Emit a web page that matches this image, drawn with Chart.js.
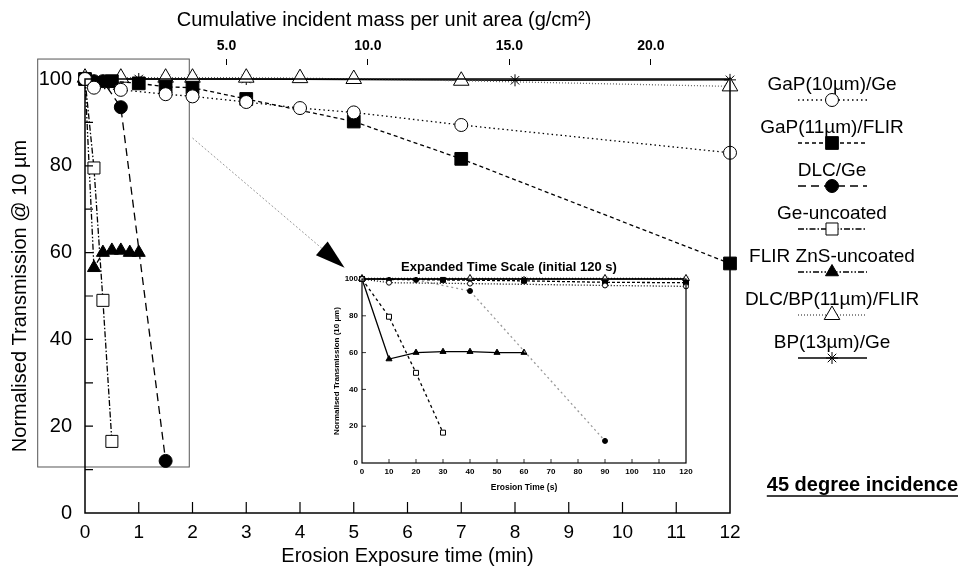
<!DOCTYPE html>
<html>
<head>
<meta charset="utf-8">
<script src="https://cdn.jsdelivr.net/npm/chart.js@4.4.1/dist/chart.umd.min.js"></script>
<style>
  html, body { margin: 0; padding: 0; background: #fff; }
  #wrap { position: relative; width: 960px; height: 568px; }
  #main { position: absolute; left: 0; top: 0; }
  #inset { position: absolute; left: 320px; top: 255px; }
</style>
</head>
<body>
<div id="wrap">
  <canvas id="main" width="960" height="568"></canvas>
  <canvas id="inset" width="380" height="250"></canvas>
</div>
<script>
const FONT = '"Liberation Sans", Arial, Helvetica, sans-serif'
Chart.defaults.font.family = FONT
Chart.defaults.color = '#000'

// series names, in legend order
const seriesNames = ['GaP(10µm)/Ge', 'GaP(11µm)/FLIR', 'DLC/Ge', 'Ge-uncoated',
  'FLIR ZnS-uncoated', 'DLC/BP(11µm)/FLIR', 'BP(13µm)/Ge']

// erosion time (s) and normalised transmission (%)
const gap10Time = [0, 10, 40, 90, 120, 180, 240, 300, 420, 720]
const gap10Trans = [100, 98, 97.5, 96.5, 96, 94.7, 93.3, 92.3, 89.4, 83]
const gap11Time = [0, 30, 60, 90, 120, 180, 300, 420, 720]
const gap11Trans = [100, 99.5, 99, 98.2, 98, 95.4, 90.2, 81.6, 57.5]
const dlcGeTime = [0, 10, 20, 40, 90]
const dlcGeTrans = [100, 99.5, 99.5, 93.5, 12]
const geTime = [0, 10, 20, 30]
const geTrans = [100, 79.5, 49, 16.5]
const znsTime = [0, 10, 20, 30, 40, 50, 60]
const znsTrans = [100, 56.5, 60, 60.5, 60.5, 60, 60]
const dlcBpTime = [0, 40, 90, 120, 180, 240, 300, 420, 720]
const dlcBpTrans = [100.3, 100.3, 100.3, 100.3, 100.3, 100.2, 100, 99.6, 98.3]
const bpTime = [0, 60, 90, 120, 180, 480, 720]
const bpTrans = [100, 100, 100, 100, 100, 99.7, 99.8]

const seriesTime = [gap10Time, gap11Time, dlcGeTime, geTime, znsTime, dlcBpTime, bpTime]
const seriesTrans = [gap10Trans, gap11Trans, dlcGeTrans, geTrans, znsTrans, dlcBpTrans, bpTrans]

// tick labels
const minuteTicks = [0, 1, 2, 3, 4, 5, 6, 7, 8, 9, 10, 11, 12]
const massTicks = [5, 10, 15, 20]
const massAtEnd = 22.8      // g/cm2 reached at 12 min
const insetSecondTicks = [0, 10, 20, 30, 40, 50, 60, 70, 80, 90, 100, 110, 120]

// styles (main chart / inset)
const mainStyle = [
  { ps: 'circle', r: 6.5, fill: '#fff', dash: [1.5, 3], line: '#000' },
  { ps: 'rect', r: 9, fill: '#000', dash: [4, 3], line: '#000' },
  { ps: 'circle', r: 6.5, fill: '#000', dash: [8, 5], line: '#000' },
  { ps: 'rect', r: 8.5, fill: '#fff', dash: [6, 2, 1.5, 2], line: '#000' },
  { ps: 'triangle', r: 7.5, fill: '#000', dash: [6, 2, 1.5, 2, 1.5, 2], line: '#000' },
  { ps: 'triangle', r: 9, fill: '#fff', dash: [1, 2], line: '#666' },
  { ps: 'star', r: 6, fill: '#000', dash: [], line: '#000' }
]
const insetStyle = [
  { ps: 'circle', r: 2.5, fill: '#fff', dash: [1, 2], line: '#000' },
  { ps: 'rect', r: 3.5, fill: '#000', dash: [3, 2], line: '#000' },
  { ps: 'circle', r: 2.5, fill: '#000', dash: [2, 3], line: '#999' },
  { ps: 'rect', r: 3.5, fill: '#fff', dash: [3, 3], line: '#000' },
  { ps: 'triangle', r: 3.5, fill: '#000', dash: [], line: '#000' },
  { ps: 'triangle', r: 4, fill: '#fff', dash: [1, 2], line: '#000' },
  { ps: 'star', r: 3, fill: '#000', dash: [], line: '#000' }
]

function makeSets(style, toX, keep) {
  return seriesNames.map((name, i) => {
    const pts = []
    seriesTime[i].forEach((t, j) => { if (keep(t)) pts.push({ x: toX(t), y: seriesTrans[i][j] }) })
    const s = style[i]
    return {
      label: name, data: pts, showLine: true, clip: false,
      borderColor: s.line, borderWidth: 1.3, borderDash: s.dash,
      pointStyle: s.ps, pointRadius: s.r, pointBackgroundColor: s.fill,
      pointBorderColor: '#000', pointBorderWidth: 1
    }
  })
}

// annotation placement, in data units of the main chart
const zoomBoxX = [-0.88, 1.94]
const zoomBoxY = [10.6, 104.6]
const arrowFrom = [2.0, 86.4]
const arrowTo = [4.83, 56.5]

const mainDecor = {
  id: 'mainDecor',
  beforeDatasetsDraw(chart) {
    const { ctx, scales: { x, y } } = chart
    ctx.save()
    ctx.strokeStyle = '#555'
    ctx.lineWidth = 1
    const bx0 = x.getPixelForValue(zoomBoxX[0]), bx1 = x.getPixelForValue(zoomBoxX[1])
    const by0 = y.getPixelForValue(zoomBoxY[1]), by1 = y.getPixelForValue(zoomBoxY[0])
    ctx.strokeRect(bx0, by0, bx1 - bx0, by1 - by0)

    // arrow pointing to the inset
    const ax0 = x.getPixelForValue(arrowFrom[0]), ay0 = y.getPixelForValue(arrowFrom[1])
    const ax1 = x.getPixelForValue(arrowTo[0]), ay1 = y.getPixelForValue(arrowTo[1])
    const ang = Math.atan2(ay1 - ay0, ax1 - ax0)
    const hl = 30, hw = 9
    const bxh = ax1 - hl * Math.cos(ang), byh = ay1 - hl * Math.sin(ang)
    ctx.strokeStyle = '#999'
    ctx.setLineDash([2, 2])
    ctx.beginPath(); ctx.moveTo(ax0, ay0); ctx.lineTo(bxh, byh); ctx.stroke()
    ctx.setLineDash([])
    ctx.fillStyle = '#000'
    ctx.beginPath()
    ctx.moveTo(ax1, ay1)
    ctx.lineTo(bxh + hw * Math.sin(ang), byh - hw * Math.cos(ang))
    ctx.lineTo(bxh - hw * Math.sin(ang), byh + hw * Math.cos(ang))
    ctx.closePath(); ctx.fill()
    ctx.restore()
  },
  afterDraw(chart) {
    const { ctx, chartArea: a, scales: { x, y } } = chart
    ctx.save()
    ctx.setLineDash([])
    ctx.strokeStyle = '#000'
    ctx.lineWidth = 1.5
    ctx.strokeRect(a.left, a.top, a.right - a.left, a.bottom - a.top)
    ctx.lineWidth = 1.2
    ctx.beginPath()
    x.ticks.forEach(t => {
      if (t.value <= 0 || t.value >= 12) return
      const px = x.getPixelForValue(t.value)
      ctx.moveTo(px, a.bottom); ctx.lineTo(px, a.bottom - 11)
    })
    y.ticks.forEach(t => {
      if (t.value <= 0 || t.value >= 100) return
      const py = y.getPixelForValue(t.value)
      ctx.moveTo(a.left, py); ctx.lineTo(a.left + 8, py)
    })
    ctx.stroke()

    // top axis title
    ctx.fillStyle = '#000'
    ctx.textAlign = 'center'
    ctx.textBaseline = 'middle'
    ctx.font = '20px ' + FONT
    ctx.fillText('Cumulative incident mass per unit area (g/cm²)', 384, 20)

    // legend: name on top, sample line with marker underneath
    const lx = 832
    chart.data.datasets.forEach((ds, i) => {
      const ly = 85 + i * 43
      ctx.font = '19px ' + FONT
      ctx.fillStyle = '#000'
      ctx.fillText(ds.label, lx, ly)
      const sy = ly + 15
      ctx.strokeStyle = ds.borderColor
      ctx.lineWidth = ds.borderWidth
      ctx.setLineDash(ds.borderDash)
      ctx.beginPath(); ctx.moveTo(lx - 34, sy); ctx.lineTo(lx + 35, sy); ctx.stroke()
      ctx.setLineDash([])
      ctx.fillStyle = ds.pointBackgroundColor
      ctx.strokeStyle = '#000'
      ctx.lineWidth = 1
      Chart.helpers.drawPoint(ctx, { pointStyle: ds.pointStyle, radius: ds.pointRadius, borderWidth: 1, rotation: 0 }, lx, sy)
    })

    ctx.fillStyle = '#000'
    ctx.font = 'bold 20px ' + FONT
    ctx.textAlign = 'right'
    ctx.fillText('45 degree incidence', 958, 485)
    const w = ctx.measureText('45 degree incidence').width
    ctx.lineWidth = 1.5
    ctx.beginPath(); ctx.moveTo(958 - w, 496); ctx.lineTo(958, 496); ctx.stroke()
    ctx.restore()
  }
}

const mainChart = new Chart(document.getElementById('main'), {
  type: 'scatter',
  data: { datasets: makeSets(mainStyle, t => t / 60, () => true) },
  options: {
    responsive: false,
    animation: false,
    layout: { padding: { left: 0, right: 230, top: 0, bottom: 0 } },
    plugins: { legend: { display: false }, tooltip: { enabled: false } },
    scales: {
      x: {
        type: 'linear', position: 'bottom', min: 0, max: 12,
        afterBuildTicks: s => { s.ticks = minuteTicks.map(v => ({ value: v })) },
        ticks: { padding: 8, font: { size: 19 } },
        grid: { display: false, drawTicks: false }, border: { display: false },
        title: { display: true, text: 'Erosion Exposure time (min)', font: { size: 20 }, padding: 0 },
        afterFit: s => { s.height = 55 }
      },
      mass: {
        type: 'linear', position: 'top', min: 0, max: massAtEnd,
        afterBuildTicks: s => { s.ticks = massTicks.map(v => ({ value: v })) },
        ticks: { padding: 4, font: { size: 14, weight: 'bold' }, callback: v => v.toFixed(1) },
        grid: { drawOnChartArea: false, tickLength: 20, tickBorderDash: [6, 40], tickColor: '#000', tickWidth: 1 },
        border: { display: false },
        afterFit: s => { s.height = 79 }
      },
      y: {
        min: 0, max: 100,
        ticks: { stepSize: 10, padding: 13, font: { size: 20 }, callback: v => (v % 20 === 0 ? v : '') },
        grid: { display: false, drawTicks: false }, border: { display: false },
        title: { display: true, text: 'Normalised Transmission @ 10 µm', font: { size: 20 }, padding: { top: 8, bottom: 0 } },
        afterFit: s => { s.width = 85 }
      }
    }
  },
  plugins: [mainDecor]
})

const insetDecor = {
  id: 'insetDecor',
  afterDraw(chart) {
    const { ctx, chartArea: a, scales: { x, y } } = chart
    ctx.save()
    ctx.strokeStyle = '#000'
    ctx.lineWidth = 1.2
    ctx.strokeRect(a.left, a.top, a.right - a.left, a.bottom - a.top)
    ctx.lineWidth = 0.8
    ctx.beginPath()
    x.ticks.forEach(t => {
      if (t.value <= 0 || t.value >= 120) return
      const px = x.getPixelForValue(t.value)
      ctx.moveTo(px, a.bottom); ctx.lineTo(px, a.bottom - 4)
    })
    y.ticks.forEach(t => {
      if (t.value <= 0 || t.value >= 100) return
      const py = y.getPixelForValue(t.value)
      ctx.moveTo(a.left, py); ctx.lineTo(a.left + 4, py)
    })
    ctx.stroke()
    ctx.fillStyle = '#000'
    ctx.font = 'bold 13px ' + FONT
    ctx.textAlign = 'center'
    ctx.textBaseline = 'middle'
    ctx.fillText('Expanded Time Scale (initial 120 s)', 189, 12)
    ctx.restore()
  }
}

const insetChart = new Chart(document.getElementById('inset'), {
  type: 'scatter',
  data: { datasets: makeSets(insetStyle, t => t, t => t <= 120) },
  options: {
    responsive: false,
    animation: false,
    layout: { padding: { left: 0, right: 14, top: 24, bottom: 0 } },
    plugins: { legend: { display: false }, tooltip: { enabled: false } },
    scales: {
      x: {
        type: 'linear', min: 0, max: 120,
        afterBuildTicks: s => { s.ticks = insetSecondTicks.map(v => ({ value: v })) },
        ticks: { padding: 4, font: { size: 8, weight: 'bold' } },
        grid: { display: false, drawTicks: false }, border: { display: false },
        title: { display: true, text: 'Erosion Time (s)', font: { size: 8.5, weight: 'bold' }, padding: { top: 0, bottom: 12 } },
        afterFit: s => { s.height = 42 }
      },
      y: {
        min: 0, max: 100,
        ticks: { stepSize: 20, padding: 4, font: { size: 8, weight: 'bold' } },
        grid: { display: false, drawTicks: false }, border: { display: false },
        title: { display: true, text: 'Normalised Transmission (10 µm)', font: { size: 8, weight: 'bold' }, padding: { top: 12, bottom: 0 } },
        afterFit: s => { s.width = 42 }
      }
    }
  },
  plugins: [insetDecor]
})
</script>
</body>
</html>
